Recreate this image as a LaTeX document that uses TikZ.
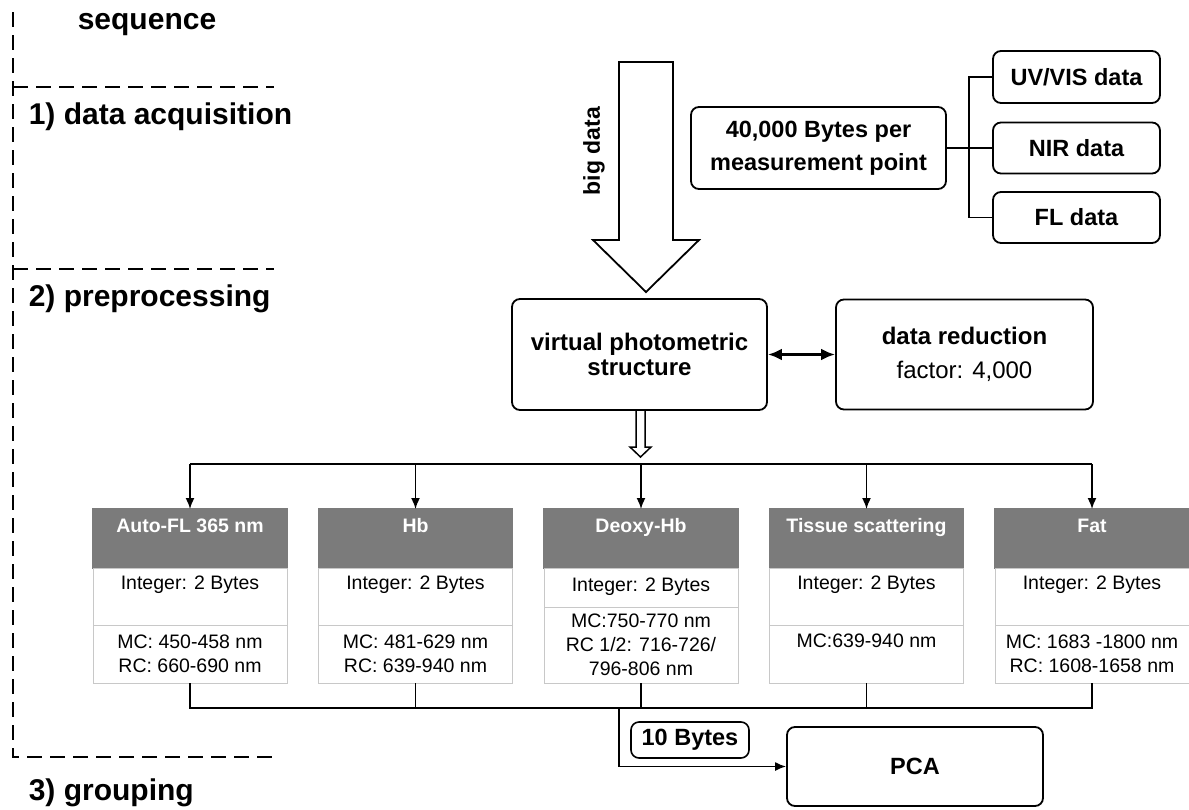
\documentclass[tikz,border=0pt]{standalone}
\usepackage{fontspec}
\setmainfont{Liberation Sans}
\usetikzlibrary{positioning,arrows.meta}
\definecolor{hdgray}{RGB}{123,123,123}
\definecolor{cellgray}{RGB}{200,200,200}
\newcommand{\stagefont}{\fontsize{30}{36}\selectfont\bfseries}
\newcommand{\boxfont}{\fontsize{23.5}{33}\selectfont\bfseries}
\newcommand{\cellfont}{\fontsize{19.5}{24}\selectfont}
\tikzset{
    rbox/.style={draw, line width=1.8pt, rounded corners=8pt, align=center, font=\boxfont, inner sep=0pt},
    head/.style={fill=hdgray, draw=hdgray, text=white, font=\cellfont\bfseries, minimum width=194pt, inner sep=0pt, outer sep=0pt, text height=23pt, text depth=36pt, anchor=north},
    cell/.style={draw=cellgray, line width=1pt, font=\cellfont, minimum width=194pt, inner sep=0pt, outer sep=0pt, align=center},
    stage/.style={anchor=west, inner sep=0pt, font=\stagefont},
    seqline/.style={line width=2pt, dash pattern=on 15pt off 8pt},
    hollow/.style={draw, line width=1.5pt, fill=white, line join=miter}
}
\begin{document}
\begin{tikzpicture}[
                            x=1pt, y=-1pt,
                            line width=1.6pt,
                            >={Latex[length=11pt,width=9pt]}
                        ]
                        \useasboundingbox (0,0) rectangle (1189,809);
                        % Sequence
                        \node [stage] (seq) at (77,25) {sequence};
                        \node [stage] (acq) at (28,117) {1) data acquisition};
                        \node [stage] (pre) at (28,299) {2) preprocessing};
                        \node [stage] (grp) at (28,793) {3) grouping};
                        \draw [seqline] (13,12) -- (13,757) -- (274,757);
                        \draw [seqline] (13,87) -- (274,87);
                        \draw [seqline] (13,269) -- (274,269);

                        % Blocks
                        \node [rbox, minimum width=255pt, minimum height=82pt] (meas) at (818.5,148) {40,000 Bytes per\\measurement point};
                        \node [rbox, minimum width=167pt, minimum height=52pt] (uv) at (1076.5,77) {UV/VIS data};
                        \node [rbox, minimum width=167pt, minimum height=51pt] (nir) at (1076.5,148) {NIR data};
                        \node [rbox, minimum width=167pt, minimum height=51pt] (fl) at (1076.5,217.5) {FL data};
                        \coordinate (br) at (969,148);
                        \node [rotate=90, font=\fontsize{23}{28}\selectfont\bfseries] (bigdata) at (594,151) {big data};
                        \node [rbox, minimum width=255pt, minimum height=111pt, font=\fontsize{24}{25.5}\selectfont\bfseries] (vps) at (639.5,354.5) {virtual photometric\\structure};
                        \node [rbox, minimum width=257pt, minimum height=110pt, font=\fontsize{24}{25.5}\selectfont\bfseries] (dred) at (964.5,354.5) {data reduction\\[8pt]{\mdseries factor: 4,000}};

                        \node [head] (afl) at (190,509) {Auto-FL 365 nm};
                        \node [cell, below=0pt of afl, text height=21pt, text depth=36pt] (afl-int) {Integer: 2 Bytes};
                        \node [cell, below=0pt of afl-int, minimum height=58pt] (afl-rng) {MC: 450-458 nm\\RC: 660-690 nm};
                        \node [head] (hb) at (415.5,509) {Hb};
                        \node [cell, below=0pt of hb, text height=21pt, text depth=36pt] (hb-int) {Integer: 2 Bytes};
                        \node [cell, below=0pt of hb-int, minimum height=58pt] (hb-rng) {MC: 481-629 nm\\RC: 639-940 nm};
                        \node [head] (dhb) at (641,509) {Deoxy-Hb};
                        \node [cell, below=0pt of dhb, text height=23pt, text depth=16pt] (dhb-int) {Integer: 2 Bytes};
                        \node [cell, below=0pt of dhb-int, minimum height=76pt] (dhb-rng) {MC:750-770 nm\\RC 1/2: 716-726/\\796-806 nm};
                        \node [head] (tis) at (866.5,509) {Tissue scattering};
                        \node [cell, below=0pt of tis, text height=21pt, text depth=36pt] (tis-int) {Integer: 2 Bytes};
                        \node [cell, below=0pt of tis-int, text height=22pt, text depth=36pt] (tis-rng) {MC:639-940 nm};
                        \node [head] (fat) at (1092,509) {Fat};
                        \node [cell, below=0pt of fat, text height=21pt, text depth=36pt] (fat-int) {Integer: 2 Bytes};
                        \node [cell, below=0pt of fat-int, minimum height=58pt] (fat-rng) {MC: 1683 -1800 nm\\RC: 1608-1658 nm};

                        \node [rbox, minimum width=118pt, minimum height=36pt, line width=1.6pt] (bytes) at (690,740) {10 Bytes};
                        \node [rbox, minimum width=256pt, minimum height=79pt] (pca) at (915,766.5) {PCA};
                        \coordinate (split) at (641,464);
                        \coordinate (bus) at (619,708);

                        % Connections
                        \draw [line width=1.8pt, line join=miter] (619,62) -- (673,62) -- (673,240) -- (699,240) -- (646,292) -- (593,240) -- (619,240) -- cycle;
                        \draw (meas.east) -- (nir.west);
                        \draw (uv.west) -| (br) |- (fl.west);
                        \draw [{Latex[length=14pt,width=12pt]}-{Latex[length=14pt,width=12pt]}, line width=3pt] (vps.east) -- (dred.west);
                        \draw [hollow] (636,410) -- (645,410) -- (645,447) -- (651,447) -- (640.5,457) -- (630,447) -- (636,447) -- cycle;
                        \draw (afl.north |- split) -- (fat.north |- split);
                        \draw [->] (afl.north |- split) -- (afl.north);
                        \draw [->] (hb.north |- split) -- (hb.north);
                        \draw [->] (dhb.north |- split) -- (dhb.north);
                        \draw [->] (tis.north |- split) -- (tis.north);
                        \draw [->] (fat.north |- split) -- (fat.north);
                        \draw (afl-rng.south) -- (afl-rng.south |- bus) -- (fat-rng.south |- bus) -- (fat-rng.south);
                        \draw (hb-rng.south) -- (hb-rng.south |- bus);
                        \draw (dhb-rng.south) -- (dhb-rng.south |- bus);
                        \draw (tis-rng.south) -- (tis-rng.south |- bus);
                        \draw [->] (bus) |- (pca.west);
                    \end{tikzpicture}
\end{document}
